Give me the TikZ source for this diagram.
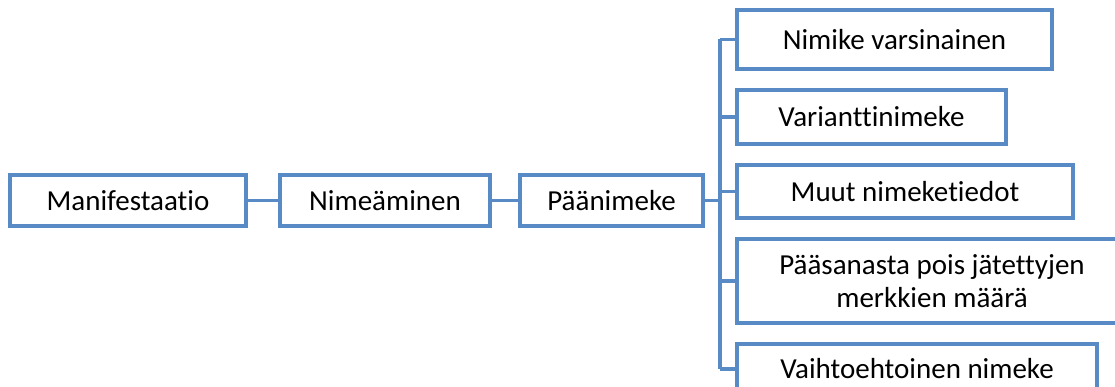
\documentclass[tikz,border=0pt]{standalone}
\usepackage{fontspec}
\setmainfont{Carlito}[Ligatures=NoCommon]
\definecolor{lineblue}{RGB}{88,139,198}
\begin{document}
\begin{tikzpicture}[x=1pt,y=-1pt,
  box/.style={draw=lineblue, line width=3.2pt, fill=white, inner sep=0pt, align=center,
    font=\fontsize{29}{32.5}\selectfont, text=black},
  conn/.style={draw=lineblue, line width=3.2pt}]
\useasboundingbox (0,0) rectangle (1115,387);
\clip (0,0) rectangle (1115,387);
\fill[white] (0,0) rectangle (1115,387);
% main chain
\node[box, minimum width=236pt, minimum height=51pt] (m) at (128,200.5) {Manifestaatio};
\node[box, minimum width=210pt, minimum height=51pt] (n) at (385,200.5) {Nimeäminen};
\node[box, minimum width=183pt, minimum height=51pt] (p) at (611.5,200.5) {Päänimeke};
% children
\node[box, minimum width=315pt, minimum height=59pt] (c1) at (894.5,39.5) {Nimike varsinainen};
\node[box, minimum width=269pt, minimum height=54pt] (c2) at (871.5,117) {Varianttinimeke};
\node[box, minimum width=336pt, minimum height=53pt] (c3) at (905,191.5) {Muut nimeketiedot};
\node[box, minimum width=390pt, minimum height=84pt] (c4) at (932,281) {Pääsanasta pois jätettyjen\\merkkien määrä};
\node[box, minimum width=360pt, minimum height=50pt] (c5) at (917,369) {Vaihtoehtoinen nimeke};
\coordinate (bus) at (720,200.5);
% connectors
\draw[conn] (m.east) -- (n.west);
\draw[conn] (n.east) -- (p.west);
\draw[conn] (p.east) -- (bus);
\draw[conn] (bus |- c1.west) -- (bus |- c5.west);
\foreach \c in {c1,c2,c3,c4,c5} {
  \draw[conn] (bus |- \c.west) -- (\c.west);
}
\end{tikzpicture}
\end{document}
